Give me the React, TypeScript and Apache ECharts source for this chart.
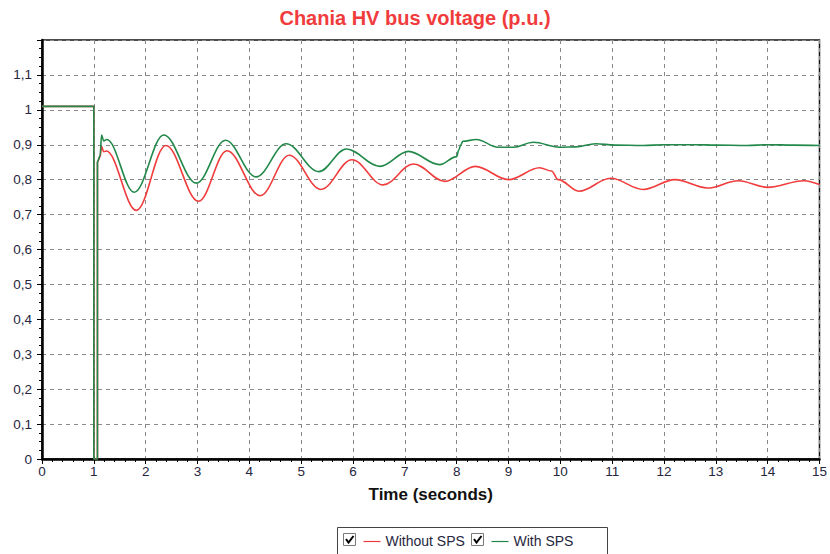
import React, { useEffect, useRef } from 'react';
import * as echarts from 'echarts';

const TITLE = 'Chania HV bus voltage (p.u.)';
const X_NAME = 'Time (seconds)';
const SERIES_NAMES = ['Without SPS', 'With SPS'];
const X_MIN = 0;
const X_MAX = 15;
const Y_MIN = 0;
const Y_MAX = 1.2;

// [time (s), voltage (p.u.)]
const withoutSPS: [number, number][] = [
  [0, 1.01], [1.0, 1.01], [1.0, 0], [1.07, 0], [1.07, 0.85], [1.12, 0.865],
  [1.15, 0.895], [1.19, 0.88], [1.24, 0.882], [1.82, 0.712], [2.39, 0.898],
  [3.02, 0.738], [3.57, 0.883], [4.21, 0.754], [4.77, 0.87], [5.38, 0.772],
  [5.98, 0.857], [6.58, 0.785], [7.17, 0.845], [7.77, 0.795], [8.36, 0.838],
  [9.0, 0.8], [9.6, 0.834], [9.83, 0.825], [9.96, 0.8], [10.36, 0.767],
  [10.97, 0.804], [11.6, 0.772], [12.21, 0.8], [12.84, 0.776], [13.43, 0.797],
  [14.0, 0.778], [14.7, 0.797], [15, 0.786],
];

const withSPS: [number, number][] = [
  [0, 1.01], [1.0, 1.01], [1.0, 0], [1.07, 0], [1.07, 0.852], [1.12, 0.868],
  [1.15, 0.928], [1.19, 0.911], [1.25, 0.915], [1.78, 0.764], [2.35, 0.928],
  [2.98, 0.79], [3.54, 0.913], [4.13, 0.808], [4.71, 0.903], [5.34, 0.823],
  [5.87, 0.888], [6.52, 0.838], [7.07, 0.881], [7.67, 0.843], [8.0, 0.866],
  [8.04, 0.885], [8.08, 0.9], [8.12, 0.91], [8.38, 0.915], [8.8, 0.893], [9.1, 0.893],
  [9.48, 0.907], [9.98, 0.893], [10.3, 0.894], [10.68, 0.903], [11.05, 0.899],
  [11.6, 0.898], [12.0, 0.9], [12.6, 0.9], [13.0, 0.899], [13.6, 0.898],
  [14.0, 0.9], [14.5, 0.899], [15, 0.898],
];

const RED = '#f03c3c';
const GREEN = '#22894a';
const FONT = "'Liberation Sans', Arial, sans-serif";
const LABEL_COLOR = '#262640';

export default function App() {
  const ref = useRef<HTMLDivElement>(null);

  useEffect(() => {
    if (!ref.current) return;
    const chart = echarts.init(ref.current, undefined, { renderer: 'svg' });

    const legendItems = [
      { name: SERIES_NAMES[0], color: RED, x: 343.5 },
      { name: SERIES_NAMES[1], color: GREEN, x: 471.5 },
    ];
    const legendGraphics: any[] = [
      {
        type: 'rect',
        shape: { x: 337.5, y: 527.5, width: 270, height: 40 },
        style: { fill: '#fff', stroke: '#444', lineWidth: 1 },
      },
    ];
    legendItems.forEach((it) => {
      legendGraphics.push(
        {
          type: 'rect',
          shape: { x: it.x, y: 533.5, width: 12, height: 12 },
          style: { fill: '#fff', stroke: '#7a7a7a', lineWidth: 1 },
        },
        {
          type: 'polyline',
          shape: { points: [[it.x + 2.5, 539], [it.x + 5, 542.5], [it.x + 10, 536]] },
          style: { fill: 'none', stroke: '#000', lineWidth: 2 },
        },
        {
          type: 'line',
          shape: { x1: it.x + 20, y1: 541.5, x2: it.x + 37, y2: 541.5 },
          style: { stroke: it.color, lineWidth: 1.2 },
        },
        {
          type: 'text',
          x: it.x + 42,
          y: 540.5,
          style: {
            text: it.name,
            fill: LABEL_COLOR,
            fontSize: 14,
            fontFamily: FONT,
            verticalAlign: 'middle',
            align: 'left',
          },
        }
      );
    });

    chart.setOption({
      animation: false,
      backgroundColor: '#fff',
      textStyle: { fontFamily: FONT },
      title: {
        text: TITLE,
        left: 'center',
        top: 8,
        padding: 0,
        textStyle: { color: RED, fontSize: 20, fontWeight: 'bold', fontFamily: FONT },
      },
      grid: {
        left: 42,
        right: 4,
        top: 40,
        bottom: 95,
        show: true,
        borderColor: '#111',
        borderWidth: 1.5,
        backgroundColor: 'transparent',
      },
      xAxis: {
        type: 'value',
        min: X_MIN,
        max: X_MAX,
        interval: 1,
        name: X_NAME,
        nameLocation: 'middle',
        nameGap: 27,
        nameTextStyle: { color: '#111', fontSize: 17, fontWeight: 'bold', fontFamily: FONT },
        axisLine: { show: true, lineStyle: { color: '#000', width: 2.5 } },
        axisTick: { show: true, length: 5, lineStyle: { color: '#000' } },
        minorTick: { show: true, splitNumber: 5, length: 3, lineStyle: { color: '#000' } },
        axisLabel: { color: LABEL_COLOR, fontSize: 13.5, margin: 5, fontFamily: FONT },
        splitLine: { show: true, lineStyle: { color: '#8a8a8a', type: [4, 4], width: 1 } },
      },
      yAxis: {
        type: 'value',
        min: Y_MIN,
        max: Y_MAX,
        interval: 0.1,
        axisLine: { show: true, lineStyle: { color: '#000', width: 2.5 } },
        axisTick: { show: true, length: 5, lineStyle: { color: '#000' } },
        minorTick: { show: true, splitNumber: 4, length: 3, lineStyle: { color: '#000' } },
        axisLabel: {
          color: LABEL_COLOR,
          fontSize: 13.5,
          margin: 10,
          fontFamily: FONT,
          formatter: (v: number) => (v > 1.15 ? '' : String(+v.toFixed(1)).replace('.', ',')),
        },
        splitLine: { show: true, lineStyle: { color: '#8a8a8a', type: [4, 4], width: 1 } },
      },
      legend: { show: false },
      series: [
        {
          name: SERIES_NAMES[0],
          type: 'line',
          data: withoutSPS,
          showSymbol: false,
          smooth: 0.36,
          smoothMonotone: 'x',
          lineStyle: { color: RED, width: 1.6 },
          itemStyle: { color: RED },
          z: 3,
        },
        {
          name: SERIES_NAMES[1],
          type: 'line',
          data: withSPS,
          showSymbol: false,
          smooth: 0.36,
          smoothMonotone: 'x',
          lineStyle: { color: GREEN, width: 1.6 },
          itemStyle: { color: GREEN },
          z: 4,
        },
      ],
      graphic: legendGraphics,
    });

    return () => chart.dispose();
  }, []);

  return (
    <div
      ref={ref}
      style={{ position: 'absolute', left: 0, top: 0, width: 830, height: 554 }}
    />
  );
}
